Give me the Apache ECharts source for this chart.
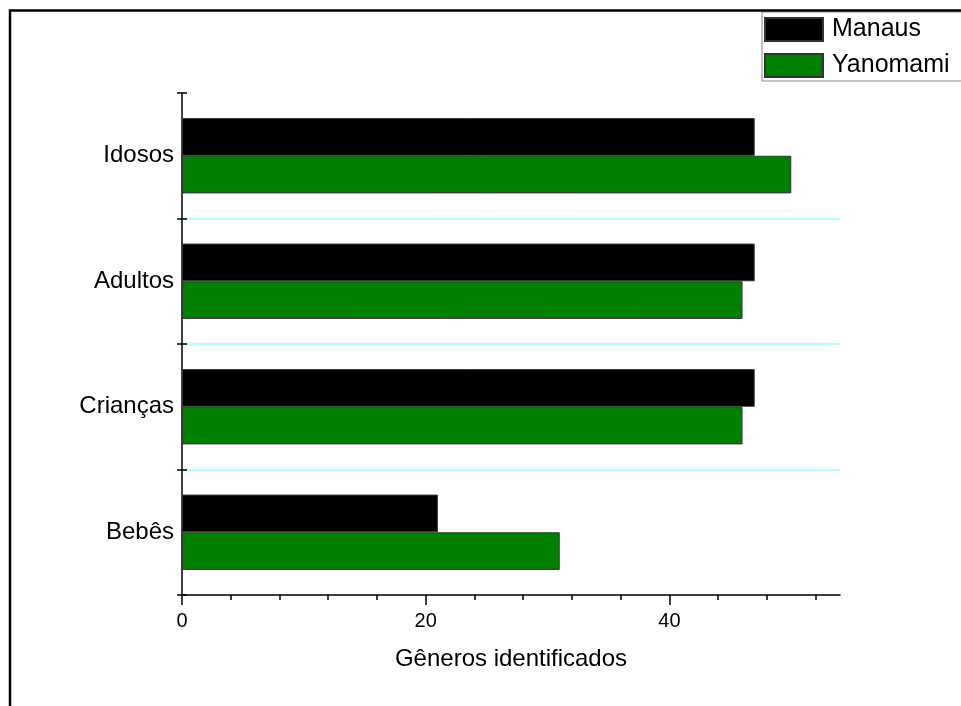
<!DOCTYPE html>
<html>
<head>
<meta charset="utf-8">
<script src="https://cdn.jsdelivr.net/npm/echarts@6/dist/echarts.min.js"></script>
<style>
  html, body { margin: 0; padding: 0; background: #fff; }
  #chart { width: 961px; height: 706px; }
</style>
</head>
<body>
<div id="chart"></div>
<script>
// Age groups (bottom to top) and number of genera identified per population
const categories = ['Bebês', 'Crianças', 'Adultos', 'Idosos'];
const manaus = [21, 47, 47, 47];
const yanomami = [31, 46, 46, 50];
const seriesNames = ['Manaus', 'Yanomami'];
const xMax = 54;
const majorTicks = [0, 20, 40];
const minorTicks = [0, 4, 8, 12, 16, 20, 24, 28, 32, 36, 40, 44, 48, 52];
const axisTitle = 'Gêneros identificados';

const FONT = 'Liberation Sans, Arial, sans-serif';
const chart = echarts.init(document.getElementById('chart'), null, { renderer: 'canvas' });

const barStyle = (color) => ({ color: color, borderColor: '#333', borderWidth: 1 });

chart.setOption({
  backgroundColor: '#fff',
  animation: false,
  textStyle: { fontFamily: FONT },
  graphic: [{
    type: 'rect',
    silent: true,
    z: 100,
    shape: { x: 10, y: 10.5, width: 1200, height: 1000 },
    style: { fill: 'none', stroke: '#000', lineWidth: 2.5 }
  }],
  legend: {
    data: seriesNames,
    orient: 'vertical',
    left: 762,
    top: 12,
    padding: [5, 40, 3, 2],
    itemWidth: 58,
    itemHeight: 23,
    itemGap: 11,
    icon: 'rect',
    borderColor: '#888',
    borderWidth: 1,
    backgroundColor: '#fff',
    textStyle: { fontSize: 25, color: '#000', fontFamily: FONT, lineHeight: 23, padding: [0, 0, 0, 4] }
  },
  grid: { left: 182, right: 121, top: 93, bottom: 111, containLabel: false },
  xAxis: [{
    type: 'value',
    min: 0,
    max: xMax,
    position: 'bottom',
    name: axisTitle,
    nameLocation: 'middle',
    nameGap: 52,
    nameTextStyle: { fontSize: 24, color: '#000', fontFamily: FONT },
    axisLine: { show: true, lineStyle: { color: '#000', width: 1.5 } },
    axisTick: { show: true, length: 5, customValues: minorTicks, lineStyle: { color: '#000', width: 1.5 } },
    axisLabel: { show: true, customValues: majorTicks, fontSize: 20, color: '#000', margin: 16, fontFamily: FONT },
    splitLine: { show: false }
  }, {
    type: 'value',
    min: 0,
    max: xMax,
    position: 'bottom',
    axisLine: { show: false },
    axisTick: { show: true, length: 10, customValues: majorTicks, lineStyle: { color: '#000', width: 1.5 } },
    axisLabel: { show: false },
    splitLine: { show: false }
  }],
  yAxis: [{
    type: 'category',
    data: categories,
    position: 'left',
    axisLine: { show: true, lineStyle: { color: '#000', width: 1.5 } },
    axisTick: { show: true, length: 5, lineStyle: { color: '#000', width: 1.5 } },
    axisLabel: { fontSize: 24, color: '#000', margin: 8, fontFamily: FONT },
    splitLine: { show: true, showMinLine: false, showMaxLine: false, lineStyle: { color: '#99ffff', width: 1.5 } }
  }, {
    type: 'category',
    data: categories,
    position: 'left',
    axisLine: { show: false },
    axisTick: { show: true, inside: true, length: 5, lineStyle: { color: '#000', width: 1.5 } },
    axisLabel: { show: false },
    splitLine: { show: false }
  }],
  series: [{
    name: 'Manaus',
    type: 'bar',
    xAxisIndex: 0,
    yAxisIndex: 0,
    data: manaus,
    barGap: '0%',
    barCategoryGap: '40%',
    itemStyle: barStyle('#000000')
  }, {
    name: 'Yanomami',
    type: 'bar',
    xAxisIndex: 0,
    yAxisIndex: 0,
    data: yanomami,
    barGap: '0%',
    barCategoryGap: '40%',
    itemStyle: barStyle('#008000')
  }]
});
</script>
</body>
</html>
